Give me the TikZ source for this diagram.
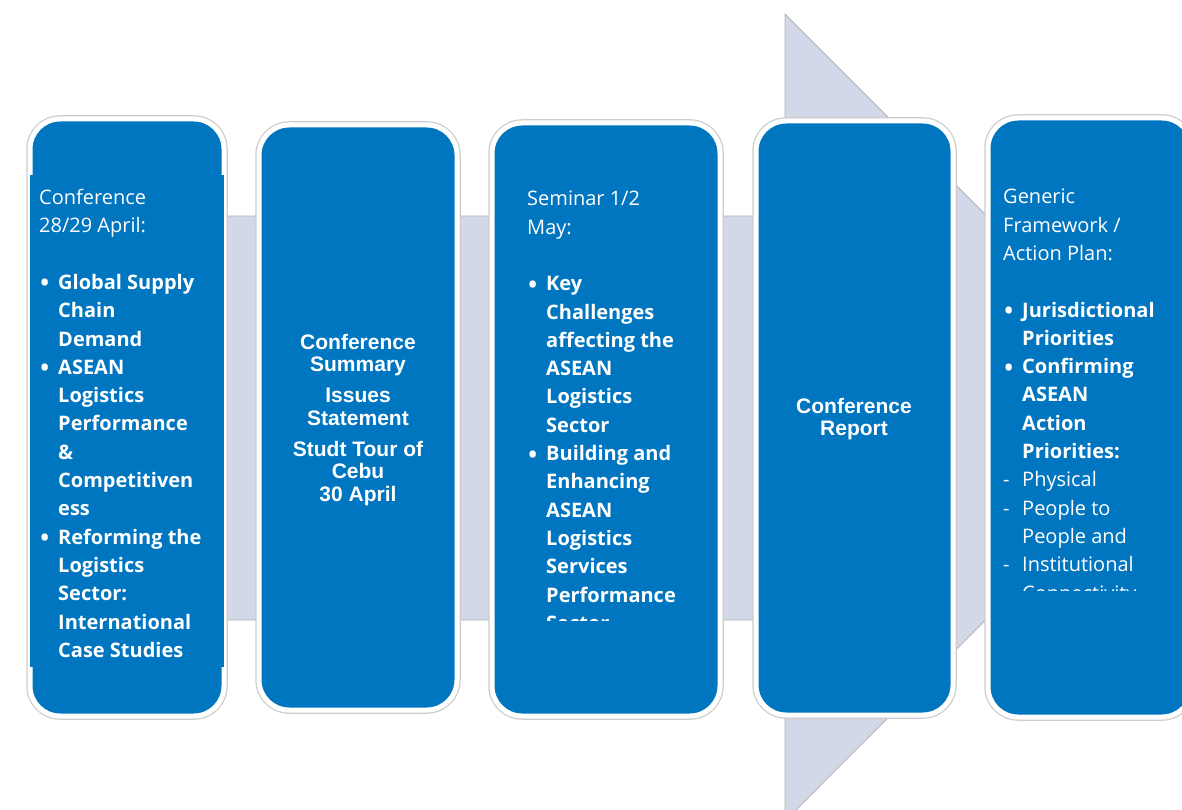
\documentclass[tikz,border=0pt]{standalone}
\usepackage{fontspec}
\usepackage{graphicx}
\setmainfont{Open Sans}
\newfontfamily\arialfont{Liberation Sans}
\definecolor{stageblue}{RGB}{0,118,192}
\definecolor{arrowgray}{RGB}{211,216,232}
\newcommand{\bul}{\makebox[19pt][l]{\raisebox{-4.5pt}{\scalebox{1.5}{\textbullet}}}}
\newcommand{\ind}{\hspace*{19pt}}
\newcommand{\dsh}{\makebox[19pt][l]{-}}

\begin{document}
\begin{tikzpicture}[x=1pt,y=-1pt,
    stage/.style={rectangle,rounded corners=30pt,fill=stageblue,draw=white,line width=5pt,
      preaction={draw=black!20,line width=7.5pt},inner sep=0pt,outer sep=0pt},
    body/.style={inner sep=0pt,anchor=north west,align=left,text=white,
      font=\fontsize{20}{28.3}\selectfont},
    plain/.style={inner sep=0pt,anchor=north,align=center,text=white,
      font=\arialfont\bfseries\fontsize{21}{22.5}\selectfont}]
        \useasboundingbox (0,0) rectangle (1182,810);
        % big arrow behind the stages
        \fill[arrowgray,draw=black!30,line width=0.8pt] (30,216) -- (785,216) -- (785,14)
          -- (1188,417) -- (785,821) -- (785,620) -- (30,620) -- cycle;
        % stages
        \node[stage,minimum width=194pt,minimum height=597pt] (conf) at (127,417.5) {};
        \node[stage,minimum width=198pt,minimum height=585pt] (summary) at (358,417.5) {};
        \node[stage,minimum width=228pt,minimum height=593pt] (seminar) at (606,419.5) {};
        \node[stage,minimum width=197pt,minimum height=594pt] (report) at (854.5,418) {};
        \node[stage,minimum width=204pt,minimum height=599pt] (plan) at (1090,417.5) {};
        \fill[stageblue] (30,175) rectangle (224,667);
        % texts
        \node[body] (conftext) at (39,189) {Conference\\28/29 April:\\[28.3pt]
          \bul\textbf{Global Supply}\\ \ind\textbf{Chain}\\ \ind\textbf{Demand}\\
          \bul\textbf{ASEAN}\\ \ind\textbf{Logistics}\\ \ind\textbf{Performance}\\
          \ind\textbf{\&}\\ \ind\textbf{Competitiven}\\ \ind\textbf{ess}\\
          \bul\textbf{Reforming the}\\ \ind\textbf{Logistics}\\ \ind\textbf{Sector:}\\
          \ind\textbf{International}\\ \ind\textbf{Case Studies}};
        \node[plain] (summarytext) at (358,334) {Conference\\Summary\\[8.5pt]
          Issues\\Statement\\[8.5pt]Studt Tour of\\Cebu\\30 April};
        \begin{scope}
          \clip (492,123) rectangle (720,620);
          \node[body] (seminartext) at (527,191) {Seminar 1/2\\May:\\[28.3pt]
            \bul\textbf{Key}\\ \ind\textbf{Challenges}\\ \ind\textbf{affecting the}\\
            \ind\textbf{ASEAN}\\ \ind\textbf{Logistics}\\ \ind\textbf{Sector}\\
            \bul\textbf{Building and}\\ \ind\textbf{Enhancing}\\ \ind\textbf{ASEAN}\\
            \ind\textbf{Logistics}\\ \ind\textbf{Services}\\ \ind\textbf{Performance}\\
            \ind\textbf{Sector}};
        \end{scope}
        \node[plain] (reporttext) at (854,398) {Conference\\Report};
        \begin{scope}
          \clip (988,118) rectangle (1182,590);
          \node[body] (plantext) at (1003,189) {Generic\\Framework /\\Action Plan:\\[28.3pt]
            \bul\textbf{Jurisdictional}\\ \ind\textbf{Priorities}\\
            \bul\textbf{Confirming}\\ \ind\textbf{ASEAN}\\ \ind\textbf{Action}\\
            \ind\textbf{Priorities:}\\
            \dsh Physical\\ \dsh People to\\ \ind People and\\ \dsh Institutional\\
            \ind Connectivity};
        \end{scope}
\end{tikzpicture}
\end{document}
